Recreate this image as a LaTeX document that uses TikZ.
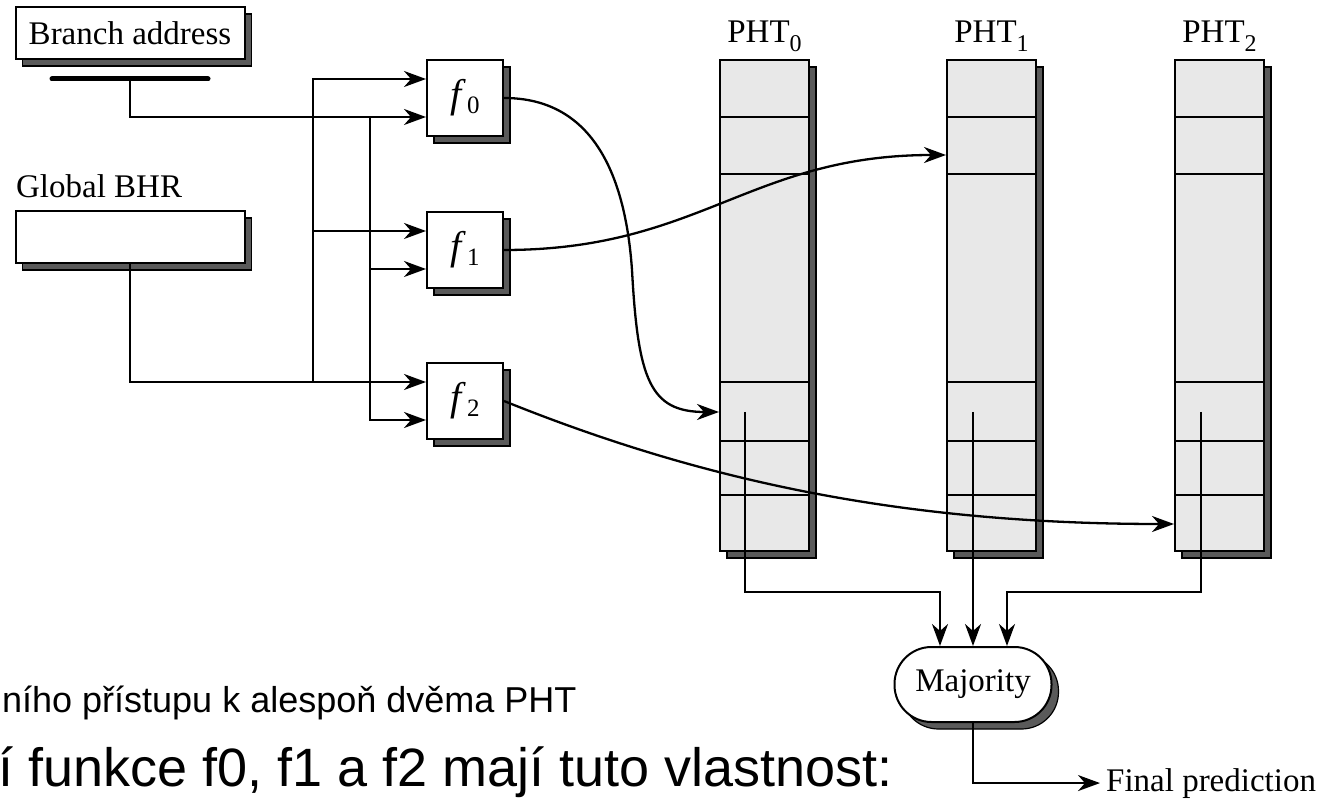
\documentclass[tikz,border=0pt]{standalone}
\usepackage{fontspec}
\setmainfont{Liberation Serif}
\newfontfamily\slidefont{Liberation Sans}
\usetikzlibrary{shapes,arrows.meta,positioning,shadows}
\definecolor{cellgray}{RGB}{232,232,232}
\definecolor{shadegray}{RGB}{90,90,90}
\newcommand{\fsub}[1]{{\fontsize{40}{40}\selectfont\textit{f}}\kern1pt\raisebox{-6pt}{\fontsize{25}{25}\selectfont #1}}
\newcommand{\phtsub}[1]{PHT\raisebox{-9pt}{\fontsize{24}{24}\selectfont #1}}
\tikzset{
    boxshadow/.style={
           copy shadow={shadow xshift=7pt, shadow yshift=-7pt,
                        fill=shadegray, draw=black, line width=1.2pt}
           },
    reg/.style={
           rectangle,
           draw=black, line width=2pt, fill=white,
           minimum width=229pt,
           minimum height=52pt,
           inner sep=0pt,
           boxshadow,
           font=\fontsize{33}{36}\selectfont
           },
    func/.style={
           rectangle,
           draw=black, line width=2pt, fill=white,
           minimum width=76pt,
           minimum height=76pt,
           inner sep=0pt,
           boxshadow,
           font=\fontsize{33}{36}\selectfont
           },
    phtcol/.style={
           rectangle,
           draw=black, line width=2pt, fill=cellgray,
           minimum width=89pt,
           minimum height=491pt,
           inner sep=0pt,
           boxshadow
           },
    vote/.style={
           rectangle, rounded corners=37pt,
           draw=black, line width=2pt, fill=white,
           minimum width=157pt,
           minimum height=75pt,
           inner sep=0pt,
           boxshadow,
           font=\fontsize{33}{36}\selectfont
           }
}
\begin{document}
\begin{tikzpicture}[x=1pt, y=-1pt, line width=2.3pt,
    >={Stealth[length=22pt,width=16pt,inset=7pt]}]
\tikzstyle{txt} = [inner sep=0pt, font=\fontsize{33}{36}\selectfont]
\useasboundingbox (0,0) rectangle (1331,799);
   \node[reg] (addr) at (130,33) {Branch address};
   \coordinate (bar) at (130,79);
   \draw[line width=5pt, line cap=round] ([xshift=-78pt]bar) -- ([xshift=78pt]bar);
   \node[txt, anchor=base west] (bhrlabel) at (15,198) {Global BHR};
   \node[reg] (bhr) at (130,237) {};
   \node[func] (f0) at (465,98)  {\fsub{0}};
   \node[func] (f1) at (465,250) {\fsub{1}};
   \node[func] (f2) at (465,401) {\fsub{2}};
   \node[phtcol] (pht0) at (764.5,305.5)  {};
   \node[phtcol] (pht1) at (991.5,305.5)  {};
   \node[phtcol] (pht2) at (1219.5,305.5) {};
   \node[txt, anchor=base] (h0) at (pht0.north |- 0,43) {\phtsub{0}};
   \node[txt, anchor=base] (h1) at (pht1.north |- 0,43) {\phtsub{1}};
   \node[txt, anchor=base] (h2) at (pht2.north |- 0,43) {\phtsub{2}};
   \node[vote] (maj) at (973,684.5) {Majority};
   \node[txt, anchor=base west] (final) at (1105,791) {Final prediction};

   \foreach \p in {pht0,pht1,pht2}
     \foreach \y in {117,174,382,441,495}
       \draw[line width=2pt] (\p.west |- 0,\y) -- (\p.east |- 0,\y);

   % selector inputs
   \foreach \f in {f0,f1,f2}{
     \coordinate (\f a) at ([yshift=19pt]\f.west);
     \coordinate (\f b) at ([yshift=-19pt]\f.west);
   }
   \coordinate (busa) at (313,0);
   \coordinate (busb) at (370,0);
   \draw[->] (bar) |- (f0b);
   \draw[->] (bhr) |- (f2a);
   \draw[->] (busa |- f2a) |- (f0a);
   \draw[->] (busa |- f1a) -- (f1a);
   \draw[->] (busb |- f0b) |- (f2b);
   \draw[->] (busb |- f1b) -- (f1b);

   % indexing into the tables
   \draw[->] (f0.east) .. controls (590,98) and (625,170) .. (632,270)
             .. controls (638,380) and (650,412) .. (pht0.west |- 0,412);
   \draw[->] (f1.east) .. controls (700,250) and (750,155) .. (pht1.west |- 0,155);
   \draw[->] (f2.east) .. controls (700,480) and (900,524) .. (pht2.west |- 0,524);

   % vote
   \coordinate (t0) at (745,412);
   \coordinate (t1) at (973,412);
   \coordinate (t2) at (1201,412);
   \coordinate (m0) at ([xshift=-33pt]maj.north);
   \coordinate (m2) at ([xshift=34pt]maj.north);
   \draw[->] (t0) -- (t0 |- 0,592) -| (m0);
   \draw[->] (t1) -- (maj.north);
   \draw[->] (t2) -- (t2 |- 0,592) -| (m2);
   \draw[->] (maj.south) |- ([xshift=-5pt]final.west);

   \node[inner sep=0pt, anchor=base west, font=\slidefont\fontsize{36}{40}\selectfont]
        (note1) at (1,712) {ního přístupu k alespoň dvěma PHT};
   \node[inner sep=0pt, anchor=base west, font=\slidefont\fontsize{54}{60}\selectfont]
        (note2) at (-3,786) {í funkce f0, f1 a f2 mají tuto vlastnost:};
\end{tikzpicture}
\end{document}
